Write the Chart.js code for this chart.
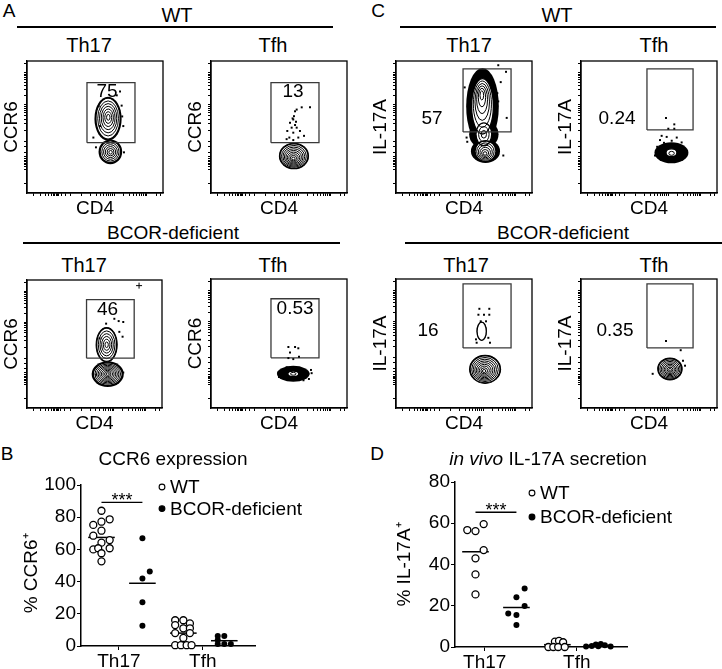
<!DOCTYPE html>
<html><head><meta charset="utf-8">
<script src="https://cdn.jsdelivr.net/npm/chart.js@4"></script>
<style>
body{margin:0;background:#fff;width:722px;height:669px;position:relative;overflow:hidden;font-family:"Liberation Sans",Arial,Helvetica,sans-serif;color:#000}
canvas{position:absolute}
.t{position:absolute;white-space:nowrap;line-height:1;transform:translate(-50%,-50%);font-size:20px}
.ln{position:absolute;height:1.6px;background:#000}
</style></head><body>
<div class="t" style="left:9px;top:10px;font-size:19px">A</div>
<div class="t" style="left:378px;top:10px;font-size:19px">C</div>
<div class="t" style="left:7px;top:453px;font-size:19px">B</div>
<div class="t" style="left:377px;top:453px;font-size:19px">D</div>

<div class="t" style="left:177px;top:15px">WT</div>
<div class="ln" style="left:17px;top:26px;width:316px"></div>
<div class="t" style="left:557px;top:15px">WT</div>
<div class="ln" style="left:400px;top:26px;width:316px"></div>
<div class="t" style="left:173px;top:232px;font-size:19px">BCOR-deficient</div>
<div class="ln" style="left:23px;top:242px;width:317px"></div>
<div class="t" style="left:563px;top:232px;font-size:19px">BCOR-deficient</div>
<div class="ln" style="left:405px;top:242px;width:317px"></div>

<div class="t" style="left:89px;top:45px">Th17</div>
<div class="t" style="left:273px;top:45px">Tfh</div>
<div class="t" style="left:469px;top:45px">Th17</div>
<div class="t" style="left:654px;top:45px">Tfh</div>
<div class="t" style="left:84px;top:265px">Th17</div>
<div class="t" style="left:273px;top:265px">Tfh</div>
<div class="t" style="left:466px;top:265px">Th17</div>
<div class="t" style="left:654px;top:265px">Tfh</div>

<canvas id="aWtTh17"></canvas><canvas id="aWtTfh"></canvas>
<canvas id="aBcTh17"></canvas><canvas id="aBcTfh"></canvas>
<canvas id="cWtTh17"></canvas><canvas id="cWtTfh"></canvas>
<canvas id="cBcTh17"></canvas><canvas id="cBcTfh"></canvas>
<canvas id="chartB"></canvas><canvas id="chartD"></canvas>

<script>
// ================= DATA =================
// Panel B: % CCR6+ (values) and column (jitter slot) of each point
const catsB = ['Th17', 'Tfh'];
const ccr6WtTh17      = [84.0, 75.2, 77.2, 78.7, 71.6, 68.5, 65.8, 64.2, 60.0, 60.7, 60.7, 57.6, 52.6];
const ccr6WtTh17Col   = [0, -1, 0, 1, 0, -1, 1, 0, -1, -0.4, 1, 0, 0];
const ccr6BcorTh17    = [66.9, 46.2, 42.0, 27.1, 12.6];
const ccr6BcorTh17Col = [0, 0.9, 0, 0, 0];
const ccr6WtTfh       = [16, 16, 14, 13, 11, 11, 8, 8, 5, 0.5, 0.5, 0.5, 0.5];
const ccr6WtTfhCol    = [-1, 0, 0.8, -1, 0, 0.8, -1, 0.8, 0, -1, -0.3, 0.4, 1];
const ccr6BcorTfh     = [6.2, 6.2, 3.7, 1.2, 1.2, 1.2];
const ccr6BcorTfhCol  = [-0.8, 0, -0.8, -0.8, 0, 0.8];
const yTicksB = [0, 20, 40, 60, 80, 100];

// Panel D: % IL-17A+
const catsD = ['Th17', 'Tfh'];
const il17WtTh17      = [56.7, 56.2, 59.6, 47.0, 43.0, 35.2, 25.5];
const il17WtTh17Col   = [-1, 0, 1, 1, 0, 0, 0];
const il17BcorTh17    = [28.4, 24.1, 19.9, 16.3, 15.5, 10.7];
const il17BcorTh17Col = [1, 0, 1, -1, 0, 0];
const il17WtTfh       = [2.6, 3.0, 2.3, 0, 0, 0, 0];
const il17WtTfhCol    = [-0.3, 0.2, 0.7, -1.1, -0.5, 0.1, 0.9];
const il17BcorTfh     = [0.3, 0.5, 1.2, 1.5, 0.8, 0.3, 0.4];
const il17BcorTfhCol  = [-1.5, -0.8, -0.3, 0.3, 0.8, 1.5, 0];
const yTicksD = [0, 20, 40, 60, 80];

// Flow plots (arbitrary 0-100 display units)
// populations: [cx, cy, rx, ry, peakX, peakY, rings, cloudX, cloudY]
const popsAWtTh17 = [[59.6, 56.3, 8.9, 15.5, 59.8, 57.5, 7, 1.1, 1.1], [61.3, 31.2, 7.6, 8.3, 61.5, 30.8, 6, 1.1, 1.1]];
const popsAWtTfh  = [[61, 28, 10.3, 9.3, 60.5, 25.9, 9, 0.8, 0.8]];
const popsABcTh17 = [[59, 49.4, 7.4, 13, 59, 49.4, 6, 0.8, 0.8], [59.8, 26.5, 10.7, 8.8, 59.8, 26.5, 9, 1.2, 1.2]];
const popsABcTfh  = [[60.5, 26.5, 4, 2.2, 60.5, 26.5, 2, 8, 4]];
const popsCWtTh17 = [[63.6, 65.7, 8, 21, 63, 75.6, 6, 4, 8], [64.6, 44.5, 5.8, 8.7, 64.6, 44.5, 3, 5, 2], [65.8, 31.7, 7.7, 7.9, 65.4, 29.6, 6, 3, 1]];
const popsCWtTfh  = [[66.5, 30.5, 4, 3, 66.7, 29.6, 2, 8.5, 5]];
const popsCBcTh17 = [[65.5, 30, 11, 10.5, 64.7, 28.5, 9, 0.8, 0.8], [63, 59.5, 3.4, 7, 63, 59.5, 1, 0.3, 0.3]];
const popsCBcTfh  = [[65.4, 30.3, 8.5, 8, 65.5, 29.5, 8, 0.9, 0.9]];

// single events outside contours [x, y]
const dotsAWtTh17 = [[48.8,42],[50.7,34.6],[69.6,66.2],[70.8,50.7],[71.3,30.8],[68.4,76.9],[52.7,65.7],[53.7,50.7],[66,74],[70,58]];
const dotsAWtTfh  = [[61.8,61.9],[61,58.2],[60.5,55.7],[58.1,53.2],[61.8,51.5],[59.3,49.5],[63,49.5],[56.1,47],[60.5,45.7],[65.4,47],[57.6,42],[64.2,42],[68.4,43.3],[72.8,64.9],[66.7,64.9],[63,63.2],[60,56.5],[62.5,54],[55.6,40.8],[60.5,40.1]];
const dotsABcTh17 = [[64.7,69.7],[67.9,67.9],[71.3,67.2],[70.8,55.7],[58.6,65.9],[53.7,54.4],[68.4,59.5],[71.3,27.7],[51.2,26]];
const crossABcTh17 = [[83, 95.6]];
const dotsABcTfh  = [[56.9,47.3],[61.8,47.3],[64.2,46.3],[58.1,43],[64.7,39.7],[56.9,38.7],[60.5,37.9],[71.6,26.5],[74,27],[52,26],[66.7,30.3],[55.6,31.5],[50,24],[72,22.5],[68,21.5],[53,29],[49.5,27.5],[73.5,29.5]];
const dotsCWtTh17 = [[75.2,96.8],[80.9,91.8],[81.4,56.9],[53.9,55.7],[51.9,42],[52.4,38.8],[78.9,28.4],[74.5,75.6],[75.2,69.4],[77,84],[50.5,80]];
const dotsCWtTfh  = [[62.5,56.9],[68.6,52],[64.2,48.7],[68.6,48.7],[59.3,43.3],[63,42.5],[70.4,42],[66.7,39.6],[58.1,40.1],[74,38.3],[77.7,30.8],[54.4,28.4],[61,38],[72,36],[56,35]];
const dotsCBcTh17 = [[61.3,76.9],[68.6,76.9],[60.6,72.3],[64.7,72.3],[68.6,72.3],[62.3,67.2],[66.2,67.2],[58.8,53.2],[67.9,54.4],[69.1,50.6],[59.3,50.6]];
const dotsCBcTfh  = [[62.5,51.9],[73.3,44.8],[52.7,26.5],[75,36.6],[76.5,32.8]];

// gates [x1, y1, x2, y2]
const gateAWt = [44.1, 38.1, 79.4, 83.6];
const gateABc = [44.1, 38.9, 79.4, 84.7];
const gateCWtTh17 = [49.3, 46.3, 84.6, 94];
const gateCWtTfh  = [48.5, 47.8, 82.4, 94];
const gateCBc     = [49.3, 46.6, 84.6, 96.2];
const gateCBcTfh  = [48.5, 46.6, 82.4, 96.2];

// percentages shown in the plots
const pctAWtTh17 = '75', pctAWtTfh = '13', pctABcTh17 = '46', pctABcTfh = '0.53';
const pctCWtTh17 = '57', pctCWtTfh = '0.24', pctCBcTh17 = '16', pctCBcTfh = '0.35';

// axis tick positions of the flow plots
const flowTicksY = [7.5,18,20,21.5,22.5,23.5,24.5,26,28,31,35,39,47.4,52.4,55.9,58.6,60.8,62.7,64.3,65.7,67,74.2,78.5,81.4,83.8,85.7,87.3,88.7,89.9,91,98.2];
const flowTicksX = [5,10,13.5,16,18,19.5,20.5,21.5,22.5,23.5,25,28,32,40,47,51,54,56.5,58.5,60,61.5,63,64,71,75,78,80.5,82.5,84,85.5,86.8,88,95,98];

// ================= RENDERING =================
const FONT = '"Liberation Sans", Arial, Helvetica, sans-serif';

const contourPlugin = {
  id: 'contours',
  beforeDatasetsDraw(chart, args, opts) {
    const pops = (opts.pops || []).map(p => ({cx:p[0],cy:p[1],rx:p[2],ry:p[3],px:p[4],py:p[5],n:p[6],padX:p[7],padY:p[8]}));
    const xs = chart.scales.x, ys = chart.scales.y, ctx = chart.ctx, a = chart.chartArea;
    const ell = (cx, cy, rx, ry) => {
      const X = xs.getPixelForValue(cx), Y = ys.getPixelForValue(cy);
      const RX = Math.abs(xs.getPixelForValue(cx + rx) - X), RY = Math.abs(ys.getPixelForValue(cy + ry) - Y);
      ctx.beginPath(); ctx.ellipse(X, Y, Math.max(RX, 0.3), Math.max(RY, 0.3), 0, 0, Math.PI * 2);
    };
    ctx.save();
    ctx.beginPath(); ctx.rect(a.left, a.top, a.right - a.left, a.bottom - a.top); ctx.clip();
    ctx.fillStyle = '#000';
    pops.forEach(p => { ell(p.cx, p.cy, p.rx + p.padX, p.ry + p.padY); ctx.fill(); });
    ctx.fillStyle = '#fff';
    pops.forEach(p => { ell(p.cx, p.cy, p.rx, p.ry); ctx.fill(); });
    ctx.strokeStyle = '#000';
    pops.forEach(p => {
      for (let k = 0; k < p.n; k++) {
        const t = k / p.n;
        ell(p.cx + (p.px - p.cx) * t, p.cy + (p.py - p.cy) * t, p.rx * (1 - t), p.ry * (1 - t));
        ctx.lineWidth = k === 0 ? 1.3 : 1;
        ctx.stroke();
      }
    });
    ctx.restore();
  }
};
const framePlugin = {
  id: 'frame',
  afterDraw(chart) {
    const {ctx, chartArea: a} = chart;
    ctx.save(); ctx.strokeStyle = '#000'; ctx.lineWidth = 1.3;
    ctx.strokeRect(a.left, a.top, a.right - a.left, a.bottom - a.top);
    ctx.restore();
  }
};
const dataTextPlugin = {
  id: 'dataText',
  afterDatasetsDraw(chart, args, opts) {
    const ctx = chart.ctx;
    ctx.save(); ctx.fillStyle = '#000'; ctx.textAlign = 'center';
    (opts.items || []).forEach(it => {
      ctx.font = `${it.size || 18}px ${FONT}`;
      ctx.textBaseline = it.baseline || 'middle';
      ctx.fillText(it.text, chart.scales.x.getPixelForValue(it.x), chart.scales.y.getPixelForValue(it.y) + (it.dy || 0));
    });
    ctx.restore();
  }
};
const runTitlePlugin = {
  id: 'runTitle',
  afterDraw(chart, args, opts) {
    if (!opts.runs) return;
    const ctx = chart.ctx;
    ctx.save(); ctx.fillStyle = '#000'; ctx.textBaseline = 'middle'; ctx.textAlign = 'left';
    const f = r => `${r.italic ? 'italic ' : ''}${opts.size}px ${FONT}`;
    let w = 0;
    opts.runs.forEach(r => { ctx.font = f(r); w += ctx.measureText(r.text).width; });
    let x = opts.x - w / 2;
    opts.runs.forEach(r => { ctx.font = f(r); ctx.fillText(r.text, x, opts.y); x += ctx.measureText(r.text).width; });
    ctx.restore();
  }
};
const pointLegendPlugin = {
  id: 'pointLegend',
  afterDraw(chart, args, opts) {
    if (!opts.x) return;
    const ctx = chart.ctx;
    ctx.save(); ctx.font = `${opts.size}px ${FONT}`; ctx.textBaseline = 'middle'; ctx.textAlign = 'left';
    chart.data.datasets.filter(d => d.inLegend).forEach((d, i) => {
      const y = opts.y + i * opts.dy;
      ctx.beginPath(); ctx.arc(opts.x, y, opts.r, 0, Math.PI * 2);
      ctx.fillStyle = d.backgroundColor; ctx.fill();
      ctx.lineWidth = 1.1; ctx.strokeStyle = '#000'; ctx.stroke();
      ctx.fillStyle = '#000'; ctx.fillText(d.label, opts.x + opts.gap, y + 1);
    });
    ctx.restore();
  }
};

function makeFlow(id, box, yTitle, pops, dots, gate, pctText, pctX, pctY, crosses) {
  const [bx, by, bw, bh] = box;
  const cv = document.getElementById(id);
  cv.width = 28 + bw + 4; cv.height = 2 + bh + 30;
  cv.style.left = (bx - 28) + 'px'; cv.style.top = (by - 2) + 'px';
  const datasets = [
    {label: 'events', data: dots.map(p => ({x: p[0], y: p[1]})), pointStyle: 'rect', pointRadius: 1.4,
     backgroundColor: '#000', borderColor: '#000', borderWidth: 0},
    {label: 'gate', data: [{x: gate[0], y: gate[1]}, {x: gate[2], y: gate[1]}, {x: gate[2], y: gate[3]}, {x: gate[0], y: gate[3]}, {x: gate[0], y: gate[1]}],
     showLine: true, borderColor: '#3a3a3a', borderWidth: 1.3, pointRadius: 0, borderJoinStyle: 'miter', tension: 0}
  ];
  if (crosses) datasets.push({label: 'outlier', data: crosses.map(p => ({x: p[0], y: p[1]})), pointStyle: 'cross', pointRadius: 3, borderColor: '#000', borderWidth: 1});
  const gridOpts = {display: true, drawOnChartArea: false, drawTicks: true, tickLength: 3, color: '#000', lineWidth: 1};
  new Chart(cv, {
    type: 'scatter',
    data: {datasets},
    options: {
      responsive: false, animation: false, devicePixelRatio: 1,
      layout: {padding: {top: 2, right: 4, left: 0, bottom: 0}},
      plugins: {legend: {display: false}, tooltip: {enabled: false},
        contours: {pops},
        dataText: {items: [{text: pctText, x: pctX, y: pctY, size: 19}]}},
      scales: {
        x: {type: 'linear', min: 0, max: 100,
            afterBuildTicks: s => { s.ticks = flowTicksX.map(v => ({value: v})); },
            afterFit: s => { s.height = 30; },
            ticks: {display: false}, grid: gridOpts, border: {display: true, color: '#000', width: 1.3},
            title: {display: true, text: 'CD4', color: '#000', font: {family: FONT, size: 19}, padding: {top: 0, bottom: 3}}},
        y: {type: 'linear', min: 0, max: 100,
            afterBuildTicks: s => { s.ticks = flowTicksY.map(v => ({value: v})); },
            afterFit: s => { s.width = 28; },
            ticks: {display: false}, grid: gridOpts, border: {display: true, color: '#000', width: 1.3},
            title: {display: true, text: yTitle, color: '#000', font: {family: FONT, size: 19}, padding: {top: 1, bottom: 0}}}
      }
    },
    plugins: [contourPlugin, framePlugin, dataTextPlugin]
  });
}

makeFlow('aWtTh17', [27, 59, 136, 134], 'CCR6', popsAWtTh17, dotsAWtTh17, gateAWt, pctAWtTh17, 58.8, 76.9);
makeFlow('aWtTfh',  [211, 59, 136, 134], 'CCR6', popsAWtTfh, dotsAWtTfh, gateAWt, pctAWtTfh, 60.3, 76.9);
makeFlow('aBcTh17', [27, 277, 136, 131], 'CCR6', popsABcTh17, dotsABcTh17, gateABc, pctABcTh17, 59.6, 77.1, crossABcTh17);
makeFlow('aBcTfh',  [211, 277, 136, 131], 'CCR6', popsABcTfh, dotsABcTfh, gateABc, pctABcTfh, 61.8, 77.1);
makeFlow('cWtTh17', [396, 59, 136, 134], 'IL-17A', popsCWtTh17, dotsCWtTh17, gateCWtTh17, pctCWtTh17, 26.5, 56);
makeFlow('cWtTfh',  [581, 59, 136, 134], 'IL-17A', popsCWtTfh, dotsCWtTfh, gateCWtTfh, pctCWtTfh, 26.5, 56);
makeFlow('cBcTh17', [396, 277, 136, 131], 'IL-17A', popsCBcTh17, dotsCBcTh17, gateCBc, pctCBcTh17, 23.5, 59.5);
makeFlow('cBcTfh',  [581, 277, 136, 131], 'IL-17A', popsCBcTfh, dotsCBcTfh, gateCBcTfh, pctCBcTfh, 25, 59.5);

// ---------- dot plots ----------
const mean = a => a.reduce((s, v) => s + v, 0) / a.length;
const pts = (vals, cols, center) => vals.map((v, i) => ({x: center + cols[i] * 0.4, y: v}));
const meanLine = (vals, center) => ({type: 'line', label: 'mean', data: [{x: center - 0.65, y: mean(vals)}, {x: center + 0.65, y: mean(vals)}],
  borderColor: '#000', borderWidth: 1.5, pointRadius: 0, showLine: true, clip: false});

function makeDot(id, left, top, w, h, area, groups, yMax, yTicks, cats, catTicks, yTitle, title, sig, legend) {
  const cv = document.getElementById(id);
  cv.width = w; cv.height = h; cv.style.left = left + 'px'; cv.style.top = top + 'px';
  const [wt1, wt1c, bc1, bc1c, wt2, wt2c, bc2, bc2c] = groups;
  const datasets = [
    {label: 'WT', inLegend: true, data: [...pts(wt1, wt1c, 1), ...pts(wt2, wt2c, 5)], pointStyle: 'circle', pointRadius: 3.5,
     backgroundColor: '#fff', borderColor: '#000', borderWidth: 1.3, clip: false},
    {label: 'BCOR-deficient', inLegend: true, data: [...pts(bc1, bc1c, 3), ...pts(bc2, bc2c, 7)], pointStyle: 'circle', pointRadius: 3,
     backgroundColor: '#000', borderColor: '#000', borderWidth: 0, clip: false},
    meanLine(wt1, 1), meanLine(bc1, 3), meanLine(wt2, 5), meanLine(bc2, 7),
    {type: 'line', label: 'sig', data: [{x: sig.x1, y: sig.y}, {x: sig.x2, y: sig.y}], borderColor: '#000', borderWidth: 1.4, pointRadius: 0, clip: false}
  ];
  new Chart(cv, {
    type: 'scatter',
    data: {datasets},
    options: {
      responsive: false, animation: false, devicePixelRatio: 1,
      layout: {padding: {top: area.top, right: area.right, left: 0, bottom: 0}},
      plugins: {legend: {display: false}, tooltip: {enabled: false},
        runTitle: title,
        pointLegend: legend,
        dataText: {items: [{text: '***', x: (sig.x1 + sig.x2) / 2, y: sig.y, dy: 3.7, baseline: 'alphabetic', size: 18}]}},
      scales: {
        x: {type: 'linear', min: 0, max: area.xMax,
            afterBuildTicks: s => { s.ticks = catTicks.map(v => ({value: v})); },
            afterFit: s => { s.height = area.xh; },
            ticks: {color: '#000', font: {family: FONT, size: 19}, padding: 0, maxRotation: 0, autoSkip: false,
                    callback: (v, i) => cats[i]},
            grid: {display: true, drawOnChartArea: false, drawTicks: true, tickLength: 4, color: '#000'},
            border: {display: true, color: '#000', width: 1.5}},
        y: {type: 'linear', min: 0, max: yMax,
            ticks: {stepSize: 10, color: '#000', font: {family: FONT, size: 19}, padding: 1,
                    callback: v => yTicks.includes(v) ? String(v) : ''},
            afterFit: s => { s.width = area.yw; },
            grid: {display: true, drawOnChartArea: false, drawTicks: true, tickLength: 4, color: '#000'},
            border: {display: true, color: '#000', width: 1.5},
            title: {display: true, text: yTitle, color: '#000', font: {family: FONT, size: 19}, padding: {top: area.ytp, bottom: 0}}}
      }
    },
    plugins: [runTitlePlugin, pointLegendPlugin, dataTextPlugin]
  });
}

makeDot('chartB', 0, 447, 320, 222, {top: 38, right: 65, xh: 23, yw: 81, ytp: 20, xMax: 8.5},
  [ccr6WtTh17, ccr6WtTh17Col, ccr6BcorTh17, ccr6BcorTh17Col, ccr6WtTfh, ccr6WtTfhCol, ccr6BcorTfh, ccr6BcorTfhCol],
  100, yTicksB, catsB, [1.85, 5.95], '% CCR6\u207A   ',
  {runs: [{text: 'CCR6 expression'}], x: 173, y: 13, size: 19},
  {x1: 1, x2: 3, y: 89.2},
  {x: 162, y: 40, dy: 21.6, r: 2.9, gap: 8, size: 19});

makeDot('chartD', 360, 447, 362, 222, {top: 35, right: 95, xh: 22, yw: 95, ytp: 33, xMax: 8.4},
  [il17WtTh17, il17WtTh17Col, il17BcorTh17, il17BcorTh17Col, il17WtTfh, il17WtTfhCol, il17BcorTfh, il17BcorTfhCol],
  80, yTicksD, catsD, [1.45, 5.95], '% IL-17A\u207A',
  {runs: [{text: 'in vivo ', italic: true}, {text: 'IL-17A secretion'}], x: 188, y: 13, size: 19},
  {x1: 1, x2: 3, y: 65.3},
  {x: 172, y: 46, dy: 24, r: 2.9, gap: 8, size: 19});
</script>
</body></html>
